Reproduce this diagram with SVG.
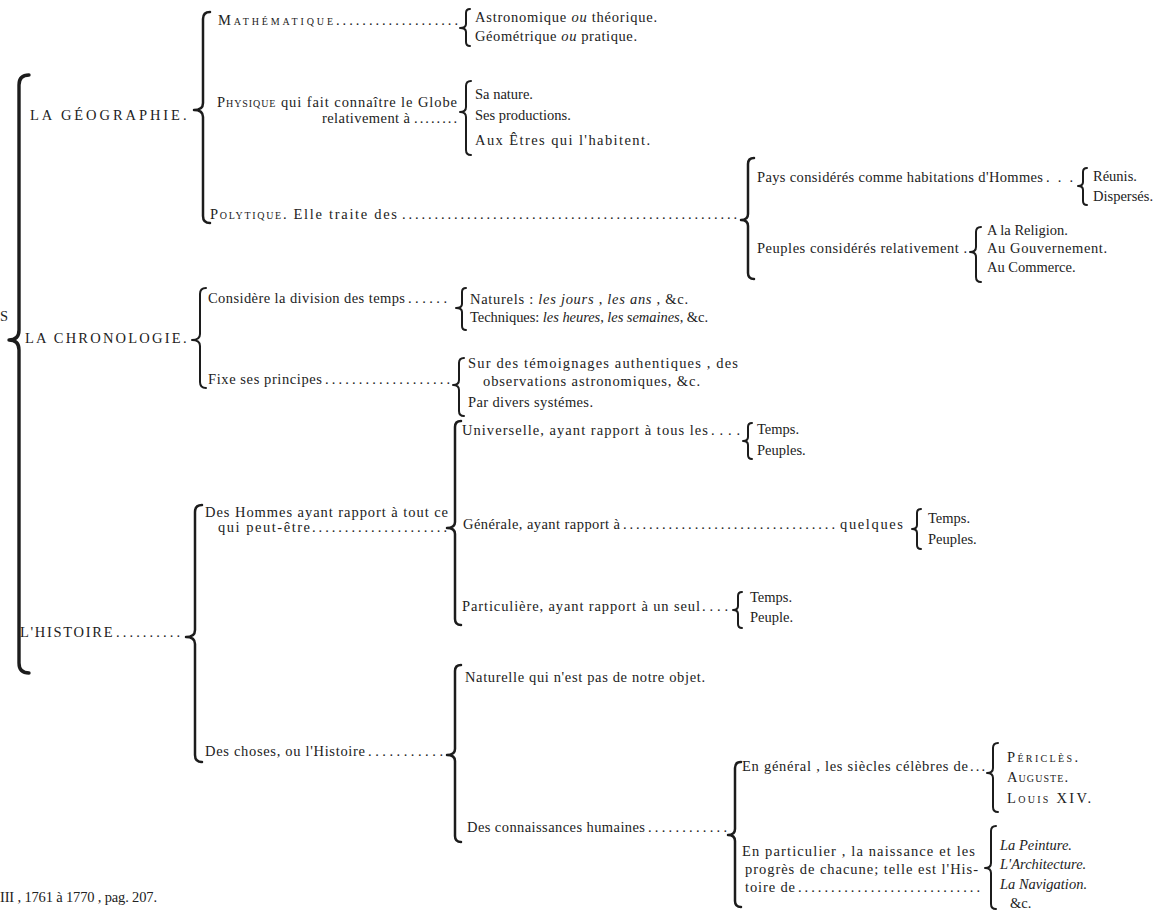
<svg xmlns="http://www.w3.org/2000/svg" width="1159" height="910" viewBox="0 0 1159 910">
<style>
.t{font-family:"Liberation Serif","DejaVu Serif",serif;font-size:14.5px;fill:#222}
.h{font-size:14.5px;letter-spacing:1.5px}
.sc{font-size:10px}
.i{font-style:italic}
.b{fill:none;stroke:#1c1c1c;stroke-width:2;stroke-linecap:round;stroke-linejoin:round}
.bb{stroke-width:3.4}
.bm{stroke-width:2.5}
</style>
<rect width="1159" height="910" fill="#fff"/>
<g id="connectors">
<path class="b bb" d="M29,75 Q19,75 19,85 L19,330 Q19,340 9,340 Q19,340 19,350 L19,663 Q19,673 29,673"/>
<path class="b bm" d="M210,12 Q203,12 203,19 L203,103 Q203,110 194,110 Q203,110 203,117 L203,216 Q203,223 210,223"/>
<path class="b" d="M206,288 Q200,288 200,294 L200,334 Q200,340 192,340 Q200,340 200,346 L200,382 Q200,388 206,388"/>
<path class="b bm" d="M202,505 Q195,505 195,512 L195,630 Q195,637 186,637 Q195,637 195,644 L195,755 Q195,762 202,762"/>
<path class="b" d="M470,9 Q466,9 466,13 L466,24 Q466,28 460,28 Q466,28 466,32 L466,42 Q466,46 470,46"/>
<path class="b" d="M471,81 Q466,81 466,86 L466,107 Q466,112 460,112 Q466,112 466,117 L466,150 Q466,155 471,155"/>
<path class="b bm" d="M754,158 Q748,158 748,164 L748,214 Q748,220 741,220 Q748,220 748,226 L748,273 Q748,279 754,279"/>
<path class="b" d="M1087,168 Q1083,168 1083,172 L1083,182 Q1083,186 1078,186 Q1083,186 1083,190 L1083,201 Q1083,205 1087,205"/>
<path class="b" d="M981,227 Q976,227 976,232 L976,247 Q976,252 970,252 Q976,252 976,257 L976,277 Q976,282 981,282"/>
<path class="b" d="M466,288 Q462,288 462,292 L462,304 Q462,308 456,308 Q462,308 462,312 L462,326 Q462,330 466,330"/>
<path class="b" d="M464,358 Q459,358 459,363 L459,380 Q459,385 453,385 Q459,385 459,390 L459,411 Q459,416 464,416"/>
<path class="b bm" d="M461,421 Q455,421 455,427 L455,522 Q455,528 447,528 Q455,528 455,534 L455,619 Q455,625 461,625"/>
<path class="b" d="M752,423 Q748,423 748,427 L748,437 Q748,441 743,441 Q748,441 748,445 L748,455 Q748,459 752,459"/>
<path class="b" d="M921,509 Q917,509 917,513 L917,525 Q917,529 912,529 Q917,529 917,533 L917,545 Q917,549 921,549"/>
<path class="b" d="M742,592 Q738,592 738,596 L738,606 Q738,610 733,610 Q738,610 738,614 L738,624 Q738,628 742,628"/>
<path class="b bm" d="M461,665 Q455,665 455,671 L455,749 Q455,755 447,755 Q455,755 455,761 L455,836 Q455,842 461,842"/>
<path class="b bm" d="M741,762 Q735,762 735,768 L735,829 Q735,835 728,835 Q735,835 735,841 L735,901 Q735,907 741,907"/>
<path class="b" d="M998,743 Q993,743 993,748 L993,768 Q993,773 987,773 Q993,773 993,778 L993,807 Q993,812 998,812"/>
<path class="b" d="M996,826 Q991,826 991,831 L991,863 Q991,868 985,868 Q991,868 991,873 L991,904 Q991,909 996,909"/>
</g>
<g id="n-s"><text class="t" x="0" y="321">S</text></g>
<g id="n-geographie"><text class="t h" x="30" y="120" textLength="158">LA GÉOGRAPHIE.</text></g>
<g id="n-chronologie"><text class="t h" x="25" y="343" textLength="163">LA CHRONOLOGIE.</text></g>
<g id="n-histoire"><text class="t h" x="20" y="637" textLength="94">L'HISTOIRE</text><text class="t" x="116" y="637" textLength="64">..........</text></g>
<g id="n-mathematique"><text class="t" x="218" y="25" textLength="115">M<tspan class="sc">ATHÉMATIQUE</tspan></text><text class="t" x="336" y="25" textLength="122">...................</text></g>
<g id="n-astronomique"><text class="t" x="475" y="22" textLength="182">Astronomique <tspan class="i">ou</tspan> théorique.</text></g>
<g id="n-geometrique"><text class="t" x="475" y="41" textLength="162">Géométrique <tspan class="i">ou</tspan> pratique.</text></g>
<g id="n-physique"><text class="t" x="217" y="107" textLength="240">P<tspan class="sc">HYSIQUE</tspan> qui fait connaître le Globe</text><text class="t" x="322" y="123" textLength="88">relativement à</text><text class="t" x="414" y="123" textLength="43">........</text></g>
<g id="n-nature"><text class="t" x="475" y="99">Sa nature.</text></g>
<g id="n-productions"><text class="t" x="475" y="120">Ses productions.</text></g>
<g id="n-etres"><text class="t" x="475" y="145" textLength="175">Aux Êtres qui l'habitent.</text></g>
<g id="n-polytique"><text class="t" x="210" y="219" textLength="187">P<tspan class="sc">OLYTIQUE</tspan>. Elle traite des</text><text class="t" x="402" y="219" textLength="335">....................................................</text></g>
<g id="n-pays"><text class="t" x="757" y="182" textLength="286">Pays considérés comme habitations d'Hommes</text><text class="t" x="1046" y="182" textLength="27">...</text></g>
<g id="n-reunis"><text class="t" x="1093" y="181">Réunis.</text></g>
<g id="n-disperses"><text class="t" x="1093" y="201">Dispersés.</text></g>
<g id="n-peuples"><text class="t" x="757" y="253" textLength="210">Peuples considérés relativement .</text></g>
<g id="n-religion"><text class="t" x="987" y="235">A la Religion.</text></g>
<g id="n-gouvernement"><text class="t" x="987" y="253" textLength="120">Au Gouvernement.</text></g>
<g id="n-commerce"><text class="t" x="987" y="272">Au Commerce.</text></g>
<g id="n-considere"><text class="t" x="208" y="303" textLength="197">Considère la division des temps</text><text class="t" x="408" y="303" textLength="39">......</text></g>
<g id="n-naturels"><text class="t" x="470" y="304" textLength="218">Naturels : <tspan class="i">les jours</tspan> , <tspan class="i">les ans</tspan> , &amp;c.</text></g>
<g id="n-techniques"><text class="t" x="470" y="322" textLength="238">Techniques: <tspan class="i">les heures</tspan>, <tspan class="i">les semaines</tspan>, &amp;c.</text></g>
<g id="n-fixe"><text class="t" x="208" y="384" textLength="114">Fixe ses principes</text><text class="t" x="325" y="384" textLength="125">...................</text></g>
<g id="n-temoignages"><text class="t" x="468" y="368" textLength="270">Sur des témoignages authentiques , des</text><text class="t" x="483" y="386" textLength="217">observations astronomiques, &amp;c.</text></g>
<g id="n-systemes"><text class="t" x="468" y="407" textLength="125">Par divers systémes.</text></g>
<g id="n-hommes"><text class="t" x="205" y="517" textLength="243">Des Hommes ayant rapport à tout ce</text><text class="t" x="218" y="532" textLength="92">qui peut-être</text><text class="t" x="312" y="532" textLength="135">.....................</text></g>
<g id="n-universelle"><text class="t" x="462" y="435" textLength="246">Universelle, ayant rapport à tous les</text><text class="t" x="711" y="435" textLength="29">....</text></g>
<g id="n-univ-temps"><text class="t" x="757" y="434">Temps.</text></g>
<g id="n-univ-peuples"><text class="t" x="757" y="455">Peuples.</text></g>
<g id="n-generale"><text class="t" x="463" y="529" textLength="157">Générale, ayant rapport à</text><text class="t" x="623" y="529" textLength="212">.................................</text><text class="t" x="840" y="529" textLength="63">quelques</text></g>
<g id="n-gen-temps"><text class="t" x="928" y="523">Temps.</text></g>
<g id="n-gen-peuples"><text class="t" x="928" y="544">Peuples.</text></g>
<g id="n-particuliere"><text class="t" x="462" y="611" textLength="238">Particulière, ayant rapport à un seul</text><text class="t" x="702" y="611" textLength="26">....</text></g>
<g id="n-part-temps"><text class="t" x="750" y="602">Temps.</text></g>
<g id="n-part-peuple"><text class="t" x="750" y="622">Peuple.</text></g>
<g id="n-choses"><text class="t" x="205" y="756" textLength="160">Des choses, ou l'Histoire</text><text class="t" x="368" y="756" textLength="75">...........</text></g>
<g id="n-naturelle"><text class="t" x="465" y="682" textLength="240">Naturelle qui n'est pas de notre objet.</text></g>
<g id="n-connaissances"><text class="t" x="467" y="832" textLength="178">Des connaissances humaines</text><text class="t" x="648" y="832" textLength="79">............</text></g>
<g id="n-en-general"><text class="t" x="742" y="771" textLength="226">En général , les siècles célèbres de</text><text class="t" x="970" y="771" textLength="15">...</text></g>
<g id="n-pericles"><text class="t" x="1007" y="762" textLength="73" letter-spacing="2">P<tspan class="sc">ÉRICLÈS</tspan>.</text></g>
<g id="n-auguste"><text class="t" x="1007" y="782" textLength="63" letter-spacing="2">A<tspan class="sc">UGUSTE</tspan>.</text></g>
<g id="n-louis"><text class="t" x="1007" y="803" textLength="86" letter-spacing="2">L<tspan class="sc">OUIS</tspan> XIV.</text></g>
<g id="n-en-particulier"><text class="t" x="742" y="856" textLength="233">En particulier , la naissance et les</text><text class="t" x="745" y="874" textLength="233">progrès de chacune; telle est l'His-</text><text class="t" x="745" y="892" textLength="50">toire de</text><text class="t" x="798" y="892" textLength="182">............................</text></g>
<g id="n-peinture"><text class="t i" x="1000" y="850">La Peinture.</text></g>
<g id="n-architecture"><text class="t i" x="1000" y="869">L'Architecture.</text></g>
<g id="n-navigation"><text class="t i" x="1000" y="889">La Navigation.</text></g>
<g id="n-etc"><text class="t" x="1010" y="908">&amp;c.</text></g>
<g id="n-footer"><text class="t" x="0" y="902" textLength="157">III , 1761 à 1770 , pag. 207.</text></g>
</svg>
